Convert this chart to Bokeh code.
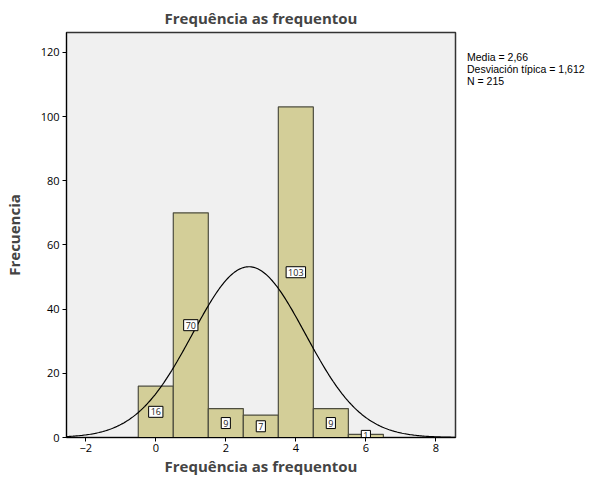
import numpy as np
from bokeh.plotting import figure
from bokeh.models import Range1d, ColumnDataSource, FixedTicker, Div
from bokeh.layouts import row
from bokeh.core.properties import value
from bokeh.embed import file_html
from bokeh.resources import INLINE

# Data
bin_centers = [0, 1, 2, 3, 4, 5, 6]
counts = [16, 70, 9, 7, 103, 9, 1]
mean = 2.66
sd = 1.612
n = 215
x_ticks = [-2, 0, 2, 4, 6, 8]
y_ticks = [0, 20, 40, 60, 80, 100, 120]
title_text = "Frequência as frequentou"
x_label = "Frequência as frequentou"
y_label = "Frecuencia"
stats_lines = ["Media = 2,66", "Desviación típica = 1,612", "N = 215"]

FONT = "Open Sans"

p = figure(width=462, height=478, output_backend="svg", toolbar_location=None,
           x_range=Range1d(-2.55, 8.56), y_range=Range1d(0, 126.2),
           min_border_left=54, min_border_right=7, min_border_top=26, min_border_bottom=34)

p.background_fill_color = "#f0f0f0"
p.border_fill_color = "white"
p.outline_line_color = "#333333"
p.outline_line_width = 1.5
p.grid.visible = False

p.title.text = title_text
p.title.align = "center"
p.title.text_font = FONT
p.title.text_font_size = "15px"
p.title.text_font_style = "bold"
p.title.offset = 0

src = ColumnDataSource(dict(x=bin_centers, top=counts,
                            mid=[c / 2 for c in counts],
                            lab=[str(c) for c in counts]))
p.vbar(x="x", top="top", bottom=0, width=1.0, source=src,
       fill_color="#d3ce98", line_color="#4d4d3f", line_width=1.2)

xs = np.linspace(-2.55, 8.56, 300)
ys = n * 1.0 / (sd * np.sqrt(2 * np.pi)) * np.exp(-0.5 * ((xs - mean) / sd) ** 2)
p.line(xs, ys, line_color="black", line_width=1.2)

p.text(x="x", y="mid", text="lab", source=src, text_font=value(FONT),
       text_font_size="9px", text_align="center", text_baseline="middle",
       text_color="#222222", background_fill_color="white",
       border_line_color="black", border_line_width=1, padding=2)

for ax in (p.xaxis[0], p.yaxis[0]):
    ax.axis_line_color = "black"
    ax.major_tick_line_color = "black"
    ax.major_tick_out = 4
    ax.major_tick_in = 0
    ax.minor_tick_line_color = None
    ax.major_label_text_font = FONT
    ax.major_label_text_font_size = "11px"
    ax.major_label_text_color = "black"
    ax.axis_label_text_font = FONT
    ax.axis_label_text_font_size = "15px"
    ax.axis_label_text_font_style = "bold"

p.xaxis.ticker = FixedTicker(ticks=x_ticks)
p.yaxis.ticker = FixedTicker(ticks=y_ticks)
p.xaxis.axis_label = x_label
p.yaxis.axis_label = y_label
p.xaxis.axis_label_standoff = 1
p.yaxis.axis_label_standoff = 14
p.xaxis.major_label_standoff = 2
p.yaxis.major_label_standoff = 3

stats = Div(text="<br>".join(stats_lines), width=130, height=478,
            styles={"font-family": "Liberation Sans", "font-size": "10.5px",
                    "line-height": "12px", "color": "black",
                    "padding-top": "46px", "white-space": "nowrap"})

layout = row(p, stats, spacing=0)

open("out.html", "w").write(file_html(layout, INLINE))
